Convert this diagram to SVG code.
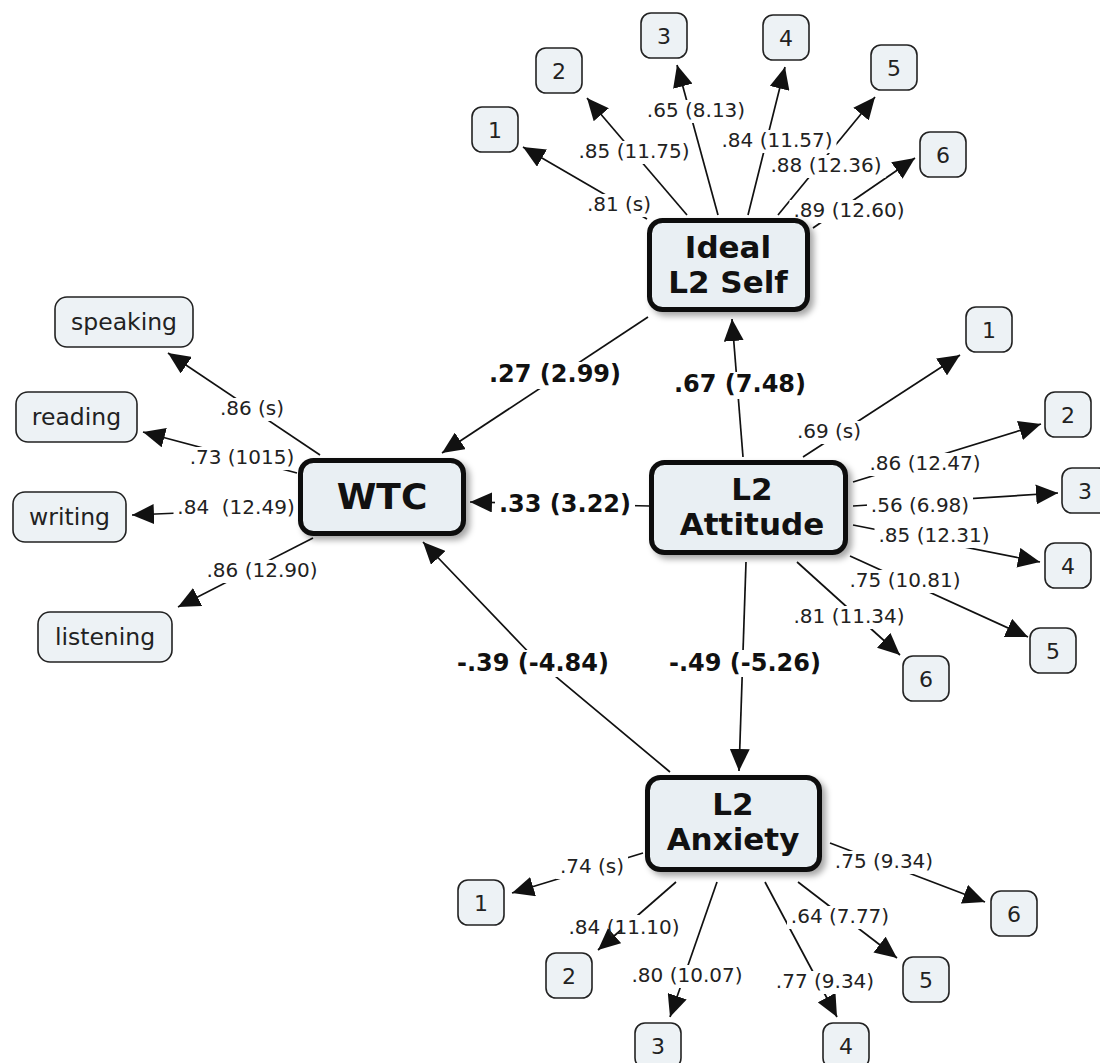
<svg xmlns="http://www.w3.org/2000/svg" width="1100" height="1063" viewBox="0 0 1100 1063">
<style>
.ln{stroke:#111;stroke-width:1.7;fill:none;marker-end:url(#ah)}
.lb{font-family:"DejaVu Sans",Verdana,sans-serif;font-size:20px;fill:#222;text-anchor:middle}
.pl{font-family:"DejaVu Sans",Verdana,sans-serif;font-size:24px;font-weight:bold;fill:#111;text-anchor:middle}
.nd rect{fill:#e9eff3;stroke:#111;stroke-width:5}
.nd text{font-family:"DejaVu Sans",Verdana,sans-serif;font-size:31px;font-weight:bold;fill:#111;text-anchor:middle}
.ind rect{fill:#edf2f5;stroke:#222;stroke-width:1.6}
.ind text{font-family:"DejaVu Sans",Verdana,sans-serif;font-size:22px;fill:#222;text-anchor:middle}
.wd text{font-size:23.5px}
.gp rect{fill:#000}
</style>
<defs>
<marker id="ah" viewBox="0 0 22 20" refX="22" refY="10" markerWidth="22" markerHeight="20" markerUnits="userSpaceOnUse" orient="auto"><path d="M0,0 L22,10 L0,20 z" fill="#111"/></marker>
<filter id="sh" x="-10%" y="-10%" width="130%" height="140%"><feDropShadow dx="4" dy="4" stdDeviation="3" flood-color="#000" flood-opacity="0.35"/></filter>
<mask id="gap" maskUnits="userSpaceOnUse" x="0" y="0" width="1100" height="1063">
<rect width="1100" height="1063" fill="#fff"/>
<g class="gp">
<rect x="583" y="194" width="72" height="23"/>
<rect x="574.5" y="141" width="119" height="23"/>
<rect x="643" y="100" width="106" height="23"/>
<rect x="717.5" y="130" width="119" height="23"/>
<rect x="766.5" y="155" width="119" height="23"/>
<rect x="789.5" y="200" width="119" height="23"/>
<rect x="216" y="398" width="72" height="23"/>
<rect x="185.5" y="447" width="113" height="23"/>
<rect x="173.5" y="497" width="125" height="23"/>
<rect x="202.5" y="560" width="119" height="23"/>
<rect x="793" y="421" width="72" height="23"/>
<rect x="865.5" y="453" width="119" height="23"/>
<rect x="867" y="495" width="106" height="23"/>
<rect x="874.5" y="525" width="119" height="23"/>
<rect x="845.5" y="570" width="119" height="23"/>
<rect x="789.5" y="606" width="119" height="23"/>
<rect x="556" y="856" width="72" height="23"/>
<rect x="622" y="915" width="64" height="19"/>
<rect x="627.5" y="965" width="119" height="23"/>
<rect x="772" y="971" width="106" height="23"/>
<rect x="787" y="906" width="106" height="23"/>
<rect x="831" y="851" width="106" height="23"/>
<rect x="485" y="362" width="140" height="27"/>
<rect x="670" y="372" width="140" height="27"/>
<rect x="495" y="492" width="140" height="27"/>
<rect x="453" y="650" width="160" height="27"/>
<rect x="665" y="650" width="160" height="27"/>
</g>
</mask>
</defs>
<rect width="1100" height="1063" fill="#fff"/>
<g id="connectors" mask="url(#gap)">
<!-- Ideal L2 Self indicators -->
<line class="ln" x1="647" y1="219" x2="523" y2="147"/>
<line class="ln" x1="687" y1="215" x2="587" y2="98"/>
<line class="ln" x1="718" y1="215" x2="677" y2="65"/>
<line class="ln" x1="748" y1="215" x2="785" y2="67"/>
<line class="ln" x1="778" y1="215" x2="875" y2="97"/>
<line class="ln" x1="813" y1="228" x2="915" y2="158"/>
<!-- WTC indicators -->
<line class="ln" x1="320" y1="455" x2="168" y2="353"/>
<line class="ln" x1="297" y1="473" x2="143" y2="432"/>
<line class="ln" x1="297" y1="508" x2="132" y2="515"/>
<line class="ln" x1="313" y1="538" x2="178" y2="607"/>
<!-- L2 Attitude indicators -->
<line class="ln" x1="803" y1="457" x2="960" y2="355"/>
<line class="ln" x1="853" y1="482" x2="1041" y2="424"/>
<line class="ln" x1="853" y1="506" x2="1058" y2="493"/>
<line class="ln" x1="853" y1="525" x2="1040" y2="562"/>
<line class="ln" x1="850" y1="556" x2="1028" y2="637"/>
<line class="ln" x1="797" y1="562" x2="900" y2="655"/>
<!-- L2 Anxiety indicators -->
<line class="ln" x1="643" y1="853" x2="512" y2="893"/>
<line class="ln" x1="676" y1="882" x2="598" y2="950"/>
<line class="ln" x1="717" y1="882" x2="670" y2="1017"/>
<line class="ln" x1="765" y1="882" x2="837" y2="1017"/>
<line class="ln" x1="798" y1="882" x2="897" y2="958"/>
<line class="ln" x1="830" y1="843" x2="985" y2="902"/>
<!-- structural paths -->
<line class="ln" x1="648" y1="317" x2="442" y2="453"/>
<line class="ln" x1="743" y1="457" x2="732" y2="319"/>
<line class="ln" x1="650" y1="506" x2="470" y2="502"/>
<path class="ln" d="M670,772 L537,661 L423,542"/>
<line class="ln" x1="746" y1="562" x2="739" y2="771"/>
</g>
<g id="edge-labels">
<text class="lb" x="619" y="211">.81 (s)</text>
<text class="lb" x="634" y="158">.85 (11.75)</text>
<text class="lb" x="696" y="117">.65 (8.13)</text>
<text class="lb" x="777" y="147">.84 (11.57)</text>
<text class="lb" x="826" y="172">.88 (12.36)</text>
<text class="lb" x="849" y="217">.89 (12.60)</text>
<text class="lb" x="252" y="415">.86 (s)</text>
<text class="lb" x="242" y="464">.73 (1015)</text>
<text class="lb" x="236" y="514" xml:space="preserve">.84  (12.49)</text>
<text class="lb" x="262" y="577">.86 (12.90)</text>
<text class="lb" x="829" y="438">.69 (s)</text>
<text class="lb" x="925" y="470">.86 (12.47)</text>
<text class="lb" x="920" y="512">.56 (6.98)</text>
<text class="lb" x="934" y="542">.85 (12.31)</text>
<text class="lb" x="905" y="587">.75 (10.81)</text>
<text class="lb" x="849" y="623">.81 (11.34)</text>
<text class="lb" x="592" y="873">.74 (s)</text>
<text class="lb" x="624" y="934">.84 (11.10)</text>
<text class="lb" x="687" y="982">.80 (10.07)</text>
<text class="lb" x="825" y="988">.77 (9.34)</text>
<text class="lb" x="840" y="923">.64 (7.77)</text>
<text class="lb" x="884" y="868">.75 (9.34)</text>
<text class="pl" x="555" y="382">.27 (2.99)</text>
<text class="pl" x="740" y="392">.67 (7.48)</text>
<text class="pl" x="565" y="512">.33 (3.22)</text>
<text class="pl" x="533" y="671">-.39 (-4.84)</text>
<text class="pl" x="745" y="671">-.49 (-5.26)</text>
</g>
<g id="ideal-l2-self" class="nd"><rect x="649.5" y="220.5" width="158" height="89" rx="13" filter="url(#sh)"/><text x="728" y="258">Ideal</text><text x="728" y="293">L2 Self</text></g>
<g id="wtc" class="nd"><rect x="300.5" y="460.5" width="163" height="73" rx="13" filter="url(#sh)"/><text x="382" y="509" style="font-size:36px">WTC</text></g>
<g id="l2-attitude" class="nd"><rect x="651.5" y="462.5" width="194" height="90" rx="13" filter="url(#sh)"/><text x="752" y="500">L2</text><text x="752" y="535">Attitude</text></g>
<g id="l2-anxiety" class="nd"><rect x="647.5" y="777.5" width="172" height="92" rx="13" filter="url(#sh)"/><text x="733" y="815">L2</text><text x="733" y="850">Anxiety</text></g>
<g id="ideal-1" class="ind"><rect x="472" y="107" width="46" height="45" rx="10"/><text x="495" y="137.5">1</text></g>
<g id="ideal-2" class="ind"><rect x="536" y="48" width="46" height="45" rx="10"/><text x="559" y="78.5">2</text></g>
<g id="ideal-3" class="ind"><rect x="641" y="13" width="46" height="45" rx="10"/><text x="664" y="43.5">3</text></g>
<g id="ideal-4" class="ind"><rect x="763" y="15" width="46" height="45" rx="10"/><text x="786" y="45.5">4</text></g>
<g id="ideal-5" class="ind"><rect x="871" y="45" width="46" height="45" rx="10"/><text x="894" y="75.5">5</text></g>
<g id="ideal-6" class="ind"><rect x="920" y="132" width="46" height="45" rx="10"/><text x="943" y="162.5">6</text></g>
<g id="wtc-speaking" class="ind wd"><rect x="55" y="297" width="138" height="50" rx="12"/><text x="124" y="330">speaking</text></g>
<g id="wtc-reading" class="ind wd"><rect x="16" y="392" width="121" height="50" rx="12"/><text x="76.5" y="425">reading</text></g>
<g id="wtc-writing" class="ind wd"><rect x="13" y="492" width="113" height="50" rx="12"/><text x="69.5" y="525">writing</text></g>
<g id="wtc-listening" class="ind wd"><rect x="38" y="612" width="134" height="50" rx="12"/><text x="105" y="645">listening</text></g>
<g id="att-1" class="ind"><rect x="966" y="307" width="46" height="45" rx="10"/><text x="989" y="337.5">1</text></g>
<g id="att-2" class="ind"><rect x="1045" y="392" width="46" height="45" rx="10"/><text x="1068" y="422.5">2</text></g>
<g id="att-3" class="ind"><rect x="1062" y="468" width="46" height="45" rx="10"/><text x="1085" y="498.5">3</text></g>
<g id="att-4" class="ind"><rect x="1045" y="543" width="46" height="45" rx="10"/><text x="1068" y="573.5">4</text></g>
<g id="att-5" class="ind"><rect x="1030" y="628" width="46" height="45" rx="10"/><text x="1053" y="658.5">5</text></g>
<g id="att-6" class="ind"><rect x="903" y="656" width="46" height="45" rx="10"/><text x="926" y="686.5">6</text></g>
<g id="anx-1" class="ind"><rect x="458" y="880" width="46" height="45" rx="10"/><text x="481" y="910.5">1</text></g>
<g id="anx-2" class="ind"><rect x="546" y="953" width="46" height="45" rx="10"/><text x="569" y="983.5">2</text></g>
<g id="anx-3" class="ind"><rect x="635" y="1023" width="46" height="45" rx="10"/><text x="658" y="1053.5">3</text></g>
<g id="anx-4" class="ind"><rect x="823" y="1023" width="46" height="45" rx="10"/><text x="846" y="1053.5">4</text></g>
<g id="anx-5" class="ind"><rect x="903" y="957" width="46" height="45" rx="10"/><text x="926" y="987.5">5</text></g>
<g id="anx-6" class="ind"><rect x="991" y="891" width="46" height="45" rx="10"/><text x="1014" y="921.5">6</text></g>
</svg>
